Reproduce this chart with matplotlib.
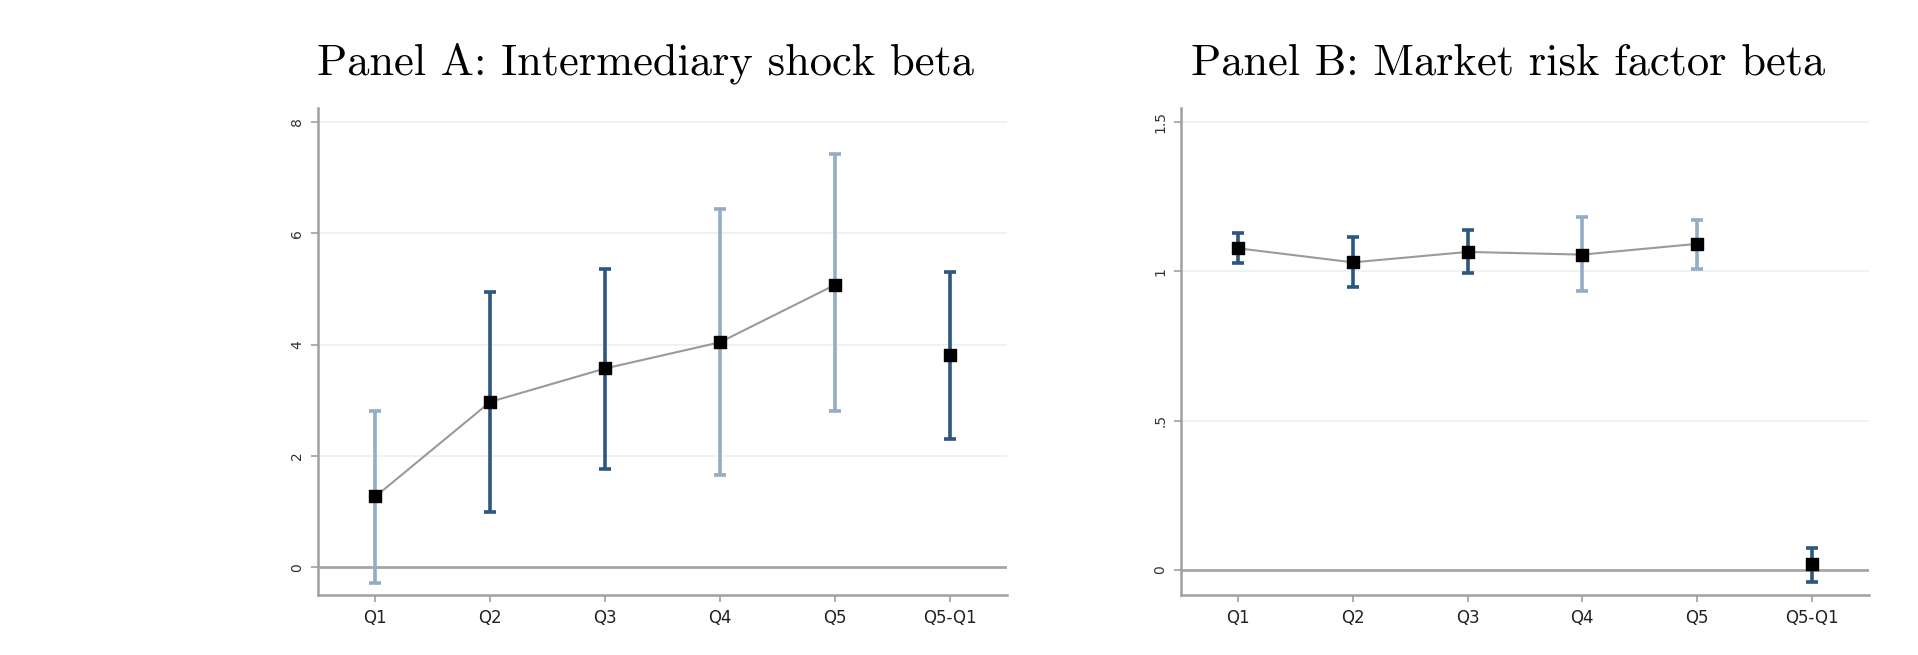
import matplotlib
matplotlib.use('Agg')
import matplotlib.pyplot as plt
import numpy as np

# ----------------------------------------------------------------------------------------------------------------------
# DATA
# ----------------------------------------------------------------------------------------------------------------------

groups = ['Q1', 'Q2', 'Q3', 'Q4', 'Q5', 'Q5-Q1']

beta_a = [1.27, 2.97, 3.57, 4.04, 5.07, 3.81]
upper_a = [2.80, 4.95, 5.36, 6.44, 7.42, 5.30]
lower_a = [-0.28, 1.00, 1.77, 1.65, 2.80, 2.31]
ticks_a = [0, 2, 4, 6, 8]
ticklabels_a = ['0', '2', '4', '6', '8']

beta_b = [1.077, 1.030, 1.065, 1.056, 1.092, 0.019]
upper_b = [1.127, 1.114, 1.137, 1.181, 1.171, 0.075]
lower_b = [1.029, 0.946, 0.996, 0.935, 1.008, -0.041]
ticks_b = [0, 0.5, 1, 1.5]
ticklabels_b = ['0', '.5', '1', '1.5']

dark = '#2b5781'
light = '#93adc7'
colors_a = [light, dark, dark, light, light, dark]
colors_b = [dark, dark, dark, light, light, dark]

# ----------------------------------------------------------------------------------------------------------------------
# PLOT
# ----------------------------------------------------------------------------------------------------------------------

f = plt.figure(figsize=(19.18, 6.55), dpi=100)
ax1 = f.add_axes([318 / 1918, 60 / 655, 689 / 1918, 487 / 655])
ax2 = f.add_axes([1181 / 1918, 60 / 655, 688 / 1918, 487 / 655])


def draw_panel(ax, beta, lower, upper, colors, ticks, ticklabels, ylim, title):
    x = np.arange(1, len(groups) + 1)
    for t in ticks[1:]:
        ax.axhline(t, color='#eaf1f3', linewidth=1.2, zorder=0)
    ax.axhline(0, color='#a6a6a6', linewidth=2, zorder=1)
    ax.plot(x[:5], beta[:5], color='#9a9a9a', linewidth=1.5, zorder=2)
    for i in range(len(groups)):
        ax.errorbar(x[i], beta[i], yerr=[[beta[i] - lower[i]], [upper[i] - beta[i]]], fmt='none',
                    ecolor=colors[i], elinewidth=2.6, capsize=4.5, capthick=2.6, zorder=3)
    ax.scatter(x, beta, marker='s', s=75, color='black', zorder=4)
    ax.set_xlim([0.5, 6.5])
    ax.set_ylim(ylim)
    ax.set_xticks(x)
    ax.set_xticklabels(groups, family='sans-serif', fontsize=12, color='#222222')
    ax.set_yticks(ticks)
    ax.set_yticklabels(ticklabels, family='sans-serif', fontsize=10, color='#333333', rotation=90, va='center')
    for s in ['top', 'right']:
        ax.spines[s].set_visible(False)
    for s in ['left', 'bottom']:
        ax.spines[s].set_color('#a0a0a0')
        ax.spines[s].set_linewidth(1.8)
    ax.tick_params(axis='both', color='#a0a0a0', length=5, width=1.2, pad=5)
    ax.set_title(title, family='cmr10', fontsize=32, pad=24, x=0.475)


draw_panel(ax1, beta_a, lower_a, upper_a, colors_a, ticks_a, ticklabels_a, [-0.5, 8.25],
           'Panel A: Intermediary shock beta')
draw_panel(ax2, beta_b, lower_b, upper_b, colors_b, ticks_b, ticklabels_b, [-0.084, 1.547],
           'Panel B: Market risk factor beta')

plt.savefig('out.png', dpi=100)
